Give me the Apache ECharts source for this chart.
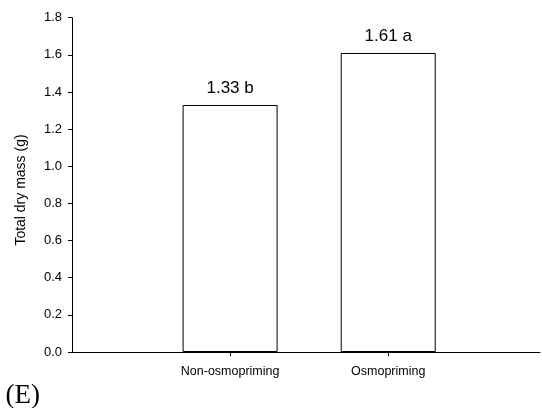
<!DOCTYPE html>
<html>
<head>
<meta charset="utf-8">
<script src="https://cdn.jsdelivr.net/npm/echarts@6/dist/echarts.min.js"></script>
<style>html,body{margin:0;padding:0;background:#fff}#c{width:542px;height:408px}</style>
</head>
<body>
<div id="c"></div>
<script>
var categories = ['Non-osmopriming', 'Osmopriming'];
var values = [1.33, 1.61];
var letters = ['b', 'a'];
var yTicks = [0, 0.2, 0.4, 0.6, 0.8, 1.0, 1.2, 1.4, 1.6, 1.8];
var positions = [1, 2];

var chart = echarts.init(document.getElementById('c'), null, {renderer: 'canvas'});
var font = 'Liberation Sans, Arial, sans-serif';
chart.setOption({
  animation: false,
  grid: {left: 72, right: 2, top: 17.7, bottom: 56},
  xAxis: {
    type: 'value', min: 0, max: 2.96,
    splitLine: {show: false},
    axisLine: {lineStyle: {color: '#000', width: 1}},
    axisTick: {show: true, customValues: positions, length: 4, lineStyle: {color: '#000'}},
    axisLabel: {
      customValues: positions, margin: 13, color: '#000', fontSize: 12.5, fontFamily: font,
      formatter: function (v) { var i = positions.indexOf(v); return i >= 0 ? categories[i] : ''; }
    }
  },
  yAxis: {
    type: 'value', min: 0, max: 1.8, interval: 0.2,
    splitLine: {show: false},
    axisLine: {show: true, lineStyle: {color: '#000', width: 1}},
    axisTick: {show: true, length: 4, lineStyle: {color: '#000'}},
    axisLabel: {color: '#000', fontSize: 13, fontFamily: font, margin: 10,
      customValues: yTicks,
      formatter: function (v) { return v.toFixed(1); }}
  },
  graphic: [{
    type: 'text', x: 5.5, y: 396,
    style: {text: '(E)', font: '27px "Liberation Serif", "Times New Roman", serif', fill: '#000',
      verticalAlign: 'middle', align: 'left'}
  }, {
    type: 'text', x: 21, y: 190, rotation: Math.PI / 2,
    style: {text: 'Total dry mass (g)', font: '14px "Liberation Sans", Arial, sans-serif', fill: '#000',
      align: 'center', verticalAlign: 'middle'}
  }],
  series: [{
    type: 'bar', barWidth: 95,
    data: values.map(function (v, i) { return [positions[i], v]; }),
    itemStyle: {color: '#fff', borderColor: '#000', borderWidth: 1},
    label: {
      show: true, position: 'top', distance: 8, color: '#000', fontSize: 17, fontFamily: font,
      formatter: function (p) { return values[p.dataIndex].toFixed(2) + ' ' + letters[p.dataIndex]; }
    }
  }]
});
</script>
</body>
</html>
